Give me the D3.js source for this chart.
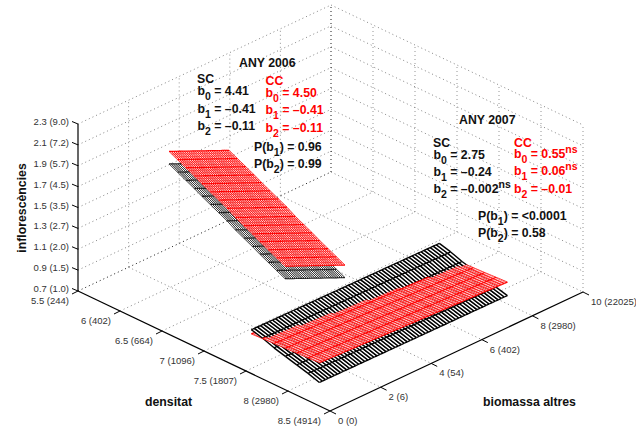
<!DOCTYPE html>
<html>
<head>
<meta charset="utf-8">
<script src="https://cdn.jsdelivr.net/npm/d3@7"></script>
<style>
  html, body { margin: 0; padding: 0; background: #fff; }
  svg { display: block; }
  text { font-family: "Liberation Sans", Arial, sans-serif; white-space: pre; }
  .tick { font-size: 9.5px; fill: #333; }
  .lab { font-size: 12.3px; font-weight: bold; fill: #111; }
</style>
</head>
<body>
<svg id="chart" width="636" height="428"></svg>
<script>
// axis ticks
const densTicks = [5.5, 6, 6.5, 7, 7.5, 8, 8.5];
const densLabels = ['5.5 (244)', '6 (402)', '6.5 (664)', '7 (1096)', '7.5 (1807)', '8 (2980)', '8.5 (4914)'];
const bioTicks = [0, 2, 4, 6, 8, 10];
const bioLabels = ['0 (0)', '2 (6)', '4 (54)', '6 (402)', '8 (2980)', '10 (22025)'];
const inflTicks = [0.7, 0.9, 1.1, 1.3, 1.5, 1.7, 1.9, 2.1, 2.3];
const inflLabels = ['0.7 (1.0)', '0.9 (1.5)', '1.1 (2.0)', '1.3 (2.7)', '1.5 (3.5)', '1.7 (4.5)', '1.9 (5.7)', '2.1 (7.2)', '2.3 (9.0)'];

// surfaces: z at both biomass ends of each density row
const dens2006 = [5.78, 5.88, 5.98, 6.08, 6.17, 6.27, 6.37, 6.47, 6.57, 6.67, 6.77, 6.86, 6.96, 7.06, 7.16];
const bio2006 = [2.67, 5.04];
const sc2006Lo = [1.72, 1.68, 1.64, 1.60, 1.56, 1.52, 1.48, 1.44, 1.39, 1.35, 1.31, 1.27, 1.23, 1.19, 1.15];
const sc2006Hi = [1.46, 1.42, 1.38, 1.34, 1.30, 1.26, 1.22, 1.18, 1.13, 1.09, 1.05, 1.01, 0.97, 0.93, 0.89];
const cc2006Lo = [1.84, 1.80, 1.76, 1.72, 1.68, 1.64, 1.60, 1.56, 1.51, 1.47, 1.43, 1.39, 1.35, 1.31, 1.27];
const cc2006Hi = [1.58, 1.54, 1.50, 1.46, 1.42, 1.38, 1.34, 1.30, 1.25, 1.21, 1.17, 1.13, 1.09, 1.05, 1.01];

const dens2007 = [7.38, 7.515, 7.65, 7.785, 7.92, 8.055, 8.19];
const bio2007 = [0.61, 8.04];
const sc2007Lo = [0.98, 0.95, 0.91, 0.88, 0.85, 0.82, 0.785];
const sc2007Hi = [0.96, 0.93, 0.89, 0.86, 0.83, 0.80, 0.77];
const cc2007Lo = [0.94, 0.946, 0.952, 0.958, 0.963, 0.969, 0.975];
const cc2007Hi = [0.865, 0.871, 0.877, 0.883, 0.888, 0.894, 0.90];

const svg = d3.select('#chart');

// oblique projection of the box, one scale per screen contribution
const dX = d3.scaleLinear().domain([5.5, 8.5]).range([78, 330]);
const dY = d3.scaleLinear().domain([5.5, 8.5]).range([291, 411]);
const bX = d3.scaleLinear().domain([0, 10]).range([0, 253]);
const bY = d3.scaleLinear().domain([0, 10]).range([0, -119]);
const zY = d3.scaleLinear().domain([0.7, 2.3]).range([0, -167]);
const proj = (d, b, z) => [dX(d) + bX(b), dY(d) + bY(b) + zY(z)];

const seg = (g, a, b, stroke, width, dash) => g.append('line')
  .attr('x1', a[0]).attr('y1', a[1]).attr('x2', b[0]).attr('y2', b[1])
  .attr('stroke', stroke).attr('stroke-width', width)
  .attr('stroke-dasharray', dash || null);

// dotted walls and floor
const grid = svg.append('g');
const dots = '1 3';
const zMin = 0.7, zMax = 2.3, dMin = 5.5, dMax = 8.5, bMin = 0, bMax = 10;
inflTicks.forEach(z => {
  const dark = z === zMin;
  seg(grid, proj(dMin, bMin, z), proj(dMin, bMax, z), dark ? '#000' : '#777', 0.9, dots);
  seg(grid, proj(dMin, bMax, z), proj(dMax, bMax, z), '#777', 0.9, dots);
});
bioTicks.forEach(b => {
  if (b > bMin) seg(grid, proj(dMin, b, zMin), proj(dMin, b, zMax), b === bMax ? '#000' : '#888', 0.9, dots);
  if (b > bMin && b < bMax) seg(grid, proj(dMin, b, zMin), proj(dMax, b, zMin), '#777', 0.9, dots);
});
densTicks.forEach(d => {
  if (d > dMin) seg(grid, proj(d, bMax, zMin), proj(d, bMax, zMax), '#888', 0.9, dots);
  if (d > dMin && d < dMax) seg(grid, proj(d, bMin, zMin), proj(d, bMax, zMin), '#777', 0.9, dots);
});

// mesh style goes with the surface, the numbers stay in the arrays above
function makeSurface(dens, bio, lo, hi, style) {
  const b = d3.interpolateNumber(bio[0], bio[1]);
  const z = (i, f, u) => d3.interpolateNumber(
    d3.interpolateNumber(lo[i], hi[i])(u),
    d3.interpolateNumber(lo[i + 1], hi[i + 1])(u)
  )(f);
  const d = (i, f) => d3.interpolateNumber(dens[i], dens[i + 1])(f);
  const pt = (i, f, u) => proj(d(i, f), b(u), z(i, f, u));
  return Object.assign({ rows: dens.length - 1, z, pt }, style);
}

function drawCells(g, s, keep) {
  for (let i = 0; i < s.rows; i++) {
    for (let k = 0; k < s.subs; k++) {
      const f0 = k / s.subs, f1 = (k + 1) / s.subs;
      for (let c = 0; c < s.cols; c++) {
        const u0 = c / s.cols, u1 = (c + 1) / s.cols;
        if (!keep(i, (f0 + f1) / 2, (u0 + u1) / 2)) continue;
        const a = s.pt(i, f0, u0), b = s.pt(i, f0, u1), e = s.pt(i, f1, u1), h = s.pt(i, f1, u0);
        g.append('path').attr('d', d3.line()([a, b, e, h]) + 'Z').attr('fill', s.fill);
        seg(g, a, h, s.color, s.fine);
        seg(g, b, e, s.color, s.fine);
        seg(g, a, b, s.color, k === 0 ? 1.3 : 0.5);
        if (i === s.rows - 1 && k === s.subs - 1) seg(g, h, e, s.color, 1.3);
      }
    }
  }
}

// cells of the red surface that sit under the black one go first
function drawPair(sc, cc) {
  const g = svg.append('g');
  drawCells(g, cc, (i, f, u) => cc.z(i, f, u) <= sc.z(i, f, u));
  drawCells(g, sc, () => true);
  drawCells(g, cc, (i, f, u) => cc.z(i, f, u) > sc.z(i, f, u));
}

const blackDense = { color: '#222', fill: '#fff', fine: 0.9, cols: 28, subs: 1 };
const redDense = { color: '#f00', fill: '#ffd8d8', fine: 0.8, cols: 28, subs: 3 };
const blackWide = { color: '#000', fill: '#fff', fine: 1.4, cols: 62, subs: 1 };
const redWide = { color: '#f00', fill: '#ffd8d8', fine: 0.8, cols: 62, subs: 5 };

drawPair(
  makeSurface(dens2006, bio2006, sc2006Lo, sc2006Hi, blackDense),
  makeSurface(dens2006, bio2006, cc2006Lo, cc2006Hi, redDense)
);
drawPair(
  makeSurface(dens2007, bio2007, sc2007Lo, sc2007Hi, blackWide),
  makeSurface(dens2007, bio2007, cc2007Lo, cc2007Hi, redWide)
);

// axes
const axes = svg.append('g');
seg(axes, proj(dMin, bMin, zMin), proj(dMin, bMin, zMax), '#000', 1.2);
seg(axes, proj(dMin, bMin, zMin), proj(dMax, bMin, zMin), '#000', 1.2);
seg(axes, proj(dMax, bMin, zMin), proj(dMax, bMax, zMin), '#000', 1.2);

inflTicks.forEach((z, i) => {
  const p = proj(dMin, bMin, z);
  seg(axes, p, [p[0] - 6, p[1] - 2.5], '#000', 1);
  axes.append('text').attr('class', 'tick').attr('text-anchor', 'end')
    .attr('x', p[0] - 9).attr('y', p[1] + 1).text(inflLabels[i]);
});
densTicks.forEach((d, i) => {
  const p = proj(d, bMin, zMin);
  seg(axes, p, [p[0] - 6, p[1] + 3], '#000', 1);
  axes.append('text').attr('class', 'tick').attr('text-anchor', 'end')
    .attr('x', p[0] - 9).attr('y', p[1] + 13).text(densLabels[i]);
});
bioTicks.forEach((b, i) => {
  const p = proj(dMax, b, zMin);
  seg(axes, p, [p[0] + 6, p[1] + 3], '#000', 1);
  axes.append('text').attr('class', 'tick')
    .attr('x', p[0] + 8).attr('y', p[1] + 13).text(bioLabels[i]);
});

axes.append('text').attr('class', 'lab').attr('x', 145).attr('y', 406).text('densitat');
axes.append('text').attr('class', 'lab').attr('x', 483).attr('y', 406).text('biomassa altres');
axes.append('text').attr('class', 'lab').attr('text-anchor', 'middle')
  .attr('transform', 'translate(26,208) rotate(-90)').text('inflorescències');

// annotations: text runs, each with its script kind
function note(x, y, parts, color) {
  const t = svg.append('text').attr('class', 'lab').attr('x', x).attr('y', y)
    .style('fill', color || '#111');
  parts.forEach(([str, kind]) => {
    const ts = t.append('tspan').text(str);
    if (kind === 'sub') ts.attr('dy', 4.5).style('font-size', '10.5px');
    if (kind === 'sup') ts.attr('dy', -5).style('font-size', '10.5px');
    if (kind === 'subEnd') ts.attr('dy', -4.5);
  });
}
const coef = (n, rest, sup) => {
  const parts = [['b'], [String(n), 'sub'], [' = ' + rest, 'subEnd']];
  if (sup) parts.push([sup, 'sup']);
  return parts;
};
const prob = (n, rest) => [['P(b'], [String(n), 'sub'], [') = ' + rest, 'subEnd']];

const scCoef2006 = ['4.41', '–0.41', '–0.11'];
const ccCoef2006 = ['4.50', '–0.41', '–0.11'];
const prob2006 = ['0.96', '0.99'];
const scCoef2007 = ['2.75', '–0.24', '–0.002'];
const ccCoef2007 = ['0.55', '0.06', '–0.01'];
const prob2007 = ['<0.0001', '0.58'];

const red = '#f00';
note(239, 67, [['ANY 2006']]);
note(197, 83, [['SC']]);
note(265.5, 85, [['CC']], red);
[95, 113, 130].forEach((y, i) => note(197.5, y, coef(i, scCoef2006[i])));
[97, 114, 132].forEach((y, i) => note(265.5, y, coef(i, ccCoef2006[i]), red));
[151, 168].forEach((y, i) => note(254, y, prob(i + 1, prob2006[i])));

note(459, 124, [['ANY 2007']]);
note(433, 147, [['SC']]);
note(514, 147, [['CC']], red);
[159, 176, 193].forEach((y, i) => note(433.5, y, coef(i, scCoef2007[i], i === 2 ? 'ns' : null)));
[158, 175, 193].forEach((y, i) => note(514, y, coef(i, ccCoef2007[i], i < 2 ? 'ns' : null), red));
[220, 237].forEach((y, i) => note(478, y, prob(i + 1, prob2007[i])));
</script>
</body>
</html>
